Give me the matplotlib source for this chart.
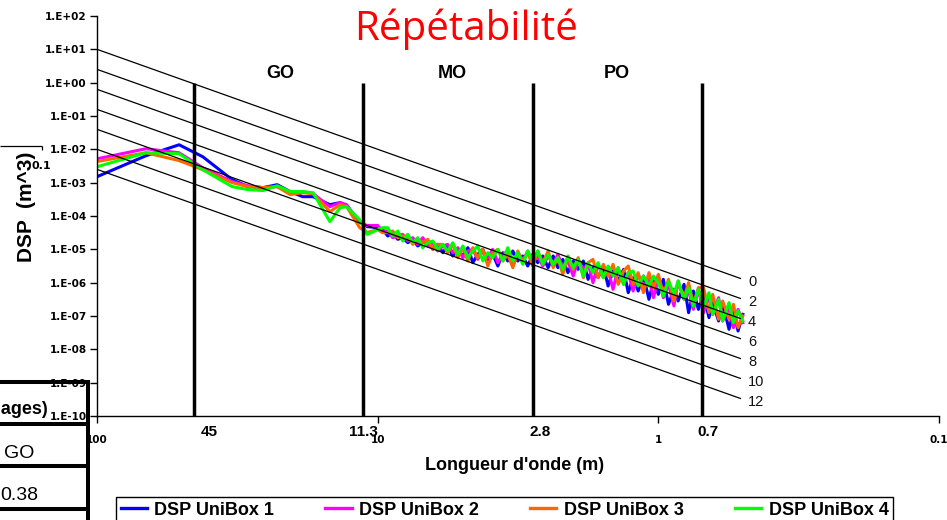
import matplotlib
matplotlib.use("Agg")
import matplotlib.pyplot as plt
from matplotlib.lines import Line2D
from matplotlib.ticker import FixedLocator, FixedFormatter, NullLocator

plt.rcParams['font.family'] = ['Liberation Sans', 'DejaVu Sans']

# ---------------- data ----------------
wavelength = [100, 67, 51, 42, 33, 29, 25.6, 22.8, 20.5, 18.5, 17, 14.8, 13.6, 12.9, 11.6, 10.9, 10.0,
              9.60, 9.21, 8.84, 8.48, 8.14, 7.81, 7.50, 7.20, 6.91, 6.63,
              6.36, 6.11, 5.86, 5.63, 5.40, 5.18, 4.97, 4.77, 4.58, 4.40,
              4.22, 4.05, 3.89, 3.73, 3.58, 3.44, 3.30, 3.17, 3.04, 2.92,
              2.80, 2.69, 2.58, 2.47, 2.37, 2.28, 2.19, 2.10, 2.01, 1.93,
              1.85, 1.78, 1.71, 1.64, 1.57, 1.51, 1.45, 1.39, 1.33, 1.28,
              1.23, 1.18, 1.13, 1.08, 1.04, 1.00, 0.96, 0.92, 0.88, 0.85,
              0.81, 0.78, 0.75, 0.72, 0.69, 0.66, 0.64, 0.61, 0.59, 0.56,
              0.54, 0.52, 0.50]

dsp_unibox1 = [1.51e-3, 6.4e-3, 1.37e-2, 6.0e-3, 1.23e-3, 7.6e-4, 7.1e-4, 8.7e-4, 5.4e-4, 3.8e-4,
               3.8e-4, 2.19e-4, 2.52e-4, 2.05e-4, 6.8e-5, 4.8e-5, 4.5e-5,
               3.98e-5, 2.51e-5, 3.16e-5, 2.00e-5, 2.24e-5, 1.58e-5, 2.00e-5, 1.26e-5, 1.58e-5, 1.78e-5,
               1.00e-5, 1.41e-5, 7.94e-6, 1.26e-5, 6.31e-6, 1.00e-5, 6.31e-6, 1.12e-5, 3.98e-6, 7.08e-6,
               1.00e-5, 3.98e-6, 7.08e-6, 3.16e-6, 7.94e-6, 4.47e-6, 8.91e-6, 4.47e-6, 6.31e-6, 3.16e-6,
               7.08e-6, 3.98e-6, 6.31e-6, 2.82e-6, 6.31e-6, 2.82e-6, 5.01e-6, 2.00e-6, 4.47e-6, 2.51e-6,
               4.47e-6, 1.26e-6, 2.82e-6, 1.41e-6, 3.16e-6, 7.94e-7, 2.24e-6, 1.12e-6, 2.51e-6, 5.01e-7,
               1.41e-6, 5.62e-7, 1.58e-6, 3.16e-7, 1.12e-6, 4.47e-7, 1.26e-6, 2.24e-7, 6.31e-7, 2.82e-7,
               8.91e-7, 1.26e-7, 5.62e-7, 1.58e-7, 4.47e-7, 8.91e-8, 2.51e-7, 7.08e-8, 2.51e-7, 3.98e-8,
               1.41e-7, 3.55e-8, 1.12e-7]

dsp_unibox2 = [5.2e-3, 1.04e-2, 7.9e-3, 2.8e-3, 1.07e-3, 8.1e-4, 7.1e-4, 7.6e-4, 5.0e-4, 5.4e-4,
               4.7e-4, 1.91e-4, 2.52e-4, 2.19e-4, 6.3e-5, 5.2e-5, 5.2e-5,
               3.55e-5, 3.55e-5, 2.24e-5, 2.51e-5, 2.82e-5, 1.78e-5, 2.24e-5, 1.41e-5, 2.24e-5, 1.26e-5,
               1.58e-5, 8.91e-6, 1.26e-5, 1.41e-5, 7.94e-6, 1.12e-5, 5.62e-6, 8.91e-6, 1.00e-5, 5.01e-6,
               8.91e-6, 5.62e-6, 1.00e-5, 3.98e-6, 7.08e-6, 8.91e-6, 3.16e-6, 7.08e-6, 4.47e-6, 8.91e-6,
               4.47e-6, 6.31e-6, 3.16e-6, 6.31e-6, 3.55e-6, 7.08e-6, 2.82e-6, 4.47e-6, 1.58e-6, 5.01e-6,
               2.24e-6, 3.98e-6, 1.00e-6, 3.55e-6, 1.41e-6, 2.51e-6, 6.31e-7, 2.82e-6, 8.91e-7, 2.00e-6,
               5.62e-7, 1.78e-6, 7.08e-7, 1.26e-6, 3.55e-7, 1.41e-6, 3.55e-7, 8.91e-7, 2.00e-7, 1.12e-6,
               3.16e-7, 5.62e-7, 1.58e-7, 6.31e-7, 1.26e-7, 3.98e-7, 1.12e-7, 3.55e-7, 7.08e-8, 1.78e-7,
               4.47e-8, 1.58e-7, 6.31e-8]

dsp_unibox3 = [4.3e-3, 7.9e-3, 4.6e-3, 2.45e-3, 1.0e-3, 7.6e-4, 7.1e-4, 7.6e-4, 4.4e-4, 5.0e-4,
               4.7e-4, 1.35e-4, 2.19e-4, 1.91e-4, 4.5e-5, 3.2e-5, 3.9e-5,
               3.16e-5, 3.16e-5, 3.55e-5, 2.24e-5, 2.51e-5, 2.51e-5, 1.41e-5, 2.00e-5, 1.58e-5, 2.00e-5,
               1.00e-5, 1.41e-5, 1.41e-5, 7.94e-6, 1.41e-5, 5.62e-6, 1.12e-5, 4.47e-6, 1.12e-5, 5.62e-6,
               1.00e-5, 3.16e-6, 7.94e-6, 1.00e-5, 4.47e-6, 7.08e-6, 2.82e-6, 8.91e-6, 4.47e-6, 7.94e-6,
               3.16e-6, 8.91e-6, 3.98e-6, 8.91e-6, 2.82e-6, 5.62e-6, 1.78e-6, 5.62e-6, 2.51e-6, 5.62e-6,
               1.41e-6, 3.98e-6, 5.01e-6, 1.41e-6, 3.55e-6, 1.58e-6, 3.55e-6, 8.91e-7, 2.24e-6, 3.16e-6,
               8.91e-7, 2.00e-6, 5.01e-7, 2.00e-6, 7.08e-7, 1.78e-6, 4.47e-7, 1.26e-6, 2.82e-7, 1.00e-6,
               3.55e-7, 1.00e-6, 2.24e-7, 7.08e-7, 7.08e-7, 1.26e-7, 4.47e-7, 7.94e-8, 2.82e-7, 7.94e-8,
               2.24e-7, 4.47e-8, 1.00e-7]

dsp_unibox4 = [3.0e-3, 7.9e-3, 7.4e-3, 2.45e-3, 7.6e-4, 6.2e-4, 5.8e-4, 8.1e-4, 5.4e-4, 5.4e-4,
               5.0e-4, 6.8e-5, 1.78e-4, 1.91e-4, 7.8e-5, 2.8e-5, 3.9e-5,
               4.47e-5, 4.47e-5, 2.51e-5, 3.55e-5, 1.78e-5, 2.82e-5, 1.58e-5, 2.24e-5, 1.12e-5, 1.58e-5,
               1.78e-5, 1.00e-5, 1.41e-5, 8.91e-6, 1.58e-5, 7.08e-6, 1.26e-5, 5.62e-6, 8.91e-6, 1.26e-5,
               4.47e-6, 7.94e-6, 5.62e-6, 1.00e-5, 4.47e-6, 1.12e-5, 4.47e-6, 7.94e-6, 3.55e-6, 8.91e-6,
               4.47e-6, 8.91e-6, 3.55e-6, 7.08e-6, 3.55e-6, 5.62e-6, 2.51e-6, 6.31e-6, 2.82e-6, 5.01e-6,
               1.58e-6, 3.98e-6, 2.00e-6, 3.98e-6, 1.41e-6, 3.16e-6, 1.58e-6, 2.82e-6, 8.91e-7, 2.00e-6,
               2.24e-6, 7.94e-7, 1.58e-6, 7.94e-7, 1.58e-6, 1.00e-6, 3.98e-7, 1.12e-6, 4.47e-7, 1.12e-6,
               3.16e-7, 7.08e-7, 2.00e-7, 6.31e-7, 2.00e-7, 5.01e-7, 1.12e-7, 3.16e-7, 7.08e-8, 2.51e-7,
               6.31e-8, 1.41e-7, 7.08e-8]

series_names = ['DSP UniBox 1', 'DSP UniBox 2', 'DSP UniBox 3', 'DSP UniBox 4']

# class reference lines (0 ... 12)
class_labels = ['0', '2', '4', '6', '8', '10', '12']
class_lambda = [100, 0.51]
class_dsp_start = [10.0, 2.51, 0.631, 0.158, 0.0398, 0.0100, 0.00251]
class_dsp_end = [1.34e-6, 3.36e-7, 8.4e-8, 2.1e-8, 5.3e-9, 1.34e-9, 3.36e-10]

# wavelength band limits
band_limits = [45, 11.3, 2.8, 0.7]
band_limit_labels = ['45', '11.3', '2.8', '0.7']
band_names = ['GO', 'MO', 'PO']
band_top = 1.0

x_ticks = [100, 10, 1, 0.1]
x_tick_labels = ['100', '10', '1', '0.1']
y_ticks = [1e2, 1e1, 1e0, 1e-1, 1e-2, 1e-3, 1e-4, 1e-5, 1e-6, 1e-7, 1e-8, 1e-9, 1e-10]
y_tick_labels = ['1.E+02', '1.E+01', '1.E+00', '1.E-01', '1.E-02', '1.E-03', '1.E-04',
                 '1.E-05', '1.E-06', '1.E-07', '1.E-08', '1.E-09', '1.E-10']

# ---------------- figure ----------------
W, H = 947, 520
fig = plt.figure(figsize=(W / 100, H / 100), dpi=100)
fig.patch.set_facecolor('white')

def fx(px):
    return px / W

def fy(py):
    return 1 - py / H

ax = fig.add_axes([fx(97), fy(416), 842 / W, 400 / H])
ax.set_xscale('log')
ax.set_yscale('log')

colors = ['#0000FF', '#FF00FF', '#FF6600', '#00FF00']
handles = []
for vals, c, name in zip([dsp_unibox1, dsp_unibox2, dsp_unibox3, dsp_unibox4], colors, series_names):
    ax.plot(wavelength, vals, color=c, lw=2.2, zorder=2, solid_joinstyle='round')
    handles.append(Line2D([], [], color=c, lw=2.4, label=name))

for s, e, lab in zip(class_dsp_start, class_dsp_end, class_labels):
    ax.plot(class_lambda, [s, e], color='black', lw=0.9, zorder=3)
    ax.annotate(lab, xy=(class_lambda[1], e), xytext=(5.5, -2.5), textcoords='offset points',
                ha='left', va='center', fontsize=10.5, color='#111111', annotation_clip=False)

ax.vlines(band_limits, 1e-10, band_top, colors='black', lw=2.5, zorder=4)

ax.set_xlim(100, 0.1)
ax.set_ylim(1e-10, 1e2)
ax.xaxis.set_major_locator(FixedLocator(x_ticks))
ax.xaxis.set_major_formatter(FixedFormatter(x_tick_labels))
ax.xaxis.set_minor_locator(NullLocator())
ax.yaxis.set_major_locator(FixedLocator(y_ticks))
ax.yaxis.set_major_formatter(FixedFormatter(y_tick_labels))
ax.yaxis.set_minor_locator(NullLocator())
for s in ['top', 'right']:
    ax.spines[s].set_visible(False)
for s in ['left', 'bottom']:
    ax.spines[s].set_linewidth(1.0)
ax.tick_params(axis='y', length=5, width=1, pad=2.5, labelsize=7.5)
ax.tick_params(axis='x', length=5, width=1, pad=9, labelsize=7.5)
for t in ax.get_yticklabels() + ax.get_xticklabels():
    t.set_fontweight('bold')
    t.set_family('DejaVu Sans')

# band names and limit labels
for name, xp in zip(band_names, [280, 452, 617]):
    ax.text((xp - 97) / 842, (416 - 74) / 400, name, transform=ax.transAxes,
            ha='center', va='center', fontsize=13, fontweight='bold')
for lab, xp in zip(band_limit_labels, [209, 363, 540, 708]):
    ax.text((xp - 97) / 842, (416 - 432) / 400, lab, transform=ax.transAxes,
            ha='center', va='center', fontsize=11, fontweight='bold', clip_on=False)

# titles / labels
fig.text(fx(466), fy(40), 'Répétabilité', ha='center', va='baseline', color='#FF0000',
         fontsize=29, family='Open Sans')
fig.text(fx(515), fy(465), "Longueur d'onde (m)", ha='center', va='center',
         fontsize=13, fontweight='bold')
fig.text(fx(41), fy(166), '0.1', ha='center', va='center', fontsize=8, fontweight='bold',
         family='DejaVu Sans')
fig.text(fx(26), fy(207), 'DSP  (m^3)', rotation=90, ha='center', va='center',
         fontsize=15, fontweight='bold', zorder=20)

# legend
leg = fig.legend(handles=handles, loc='upper left', bbox_to_anchor=(fx(116), 0, 777 / W, fy(497)),
                 mode='expand', ncol=4, frameon=True, fancybox=False, edgecolor='black',
                 framealpha=1, prop={'weight': 'bold', 'size': 13}, handlelength=1.45,
                 handletextpad=0.4, borderaxespad=0, borderpad=0.25)
leg.get_frame().set_linewidth(1.0)

# overlapping fragments from neighbouring objects
def fline(xs, ys, lw, z=15):
    fig.add_artist(Line2D([fx(v) for v in xs], [fy(v) for v in ys], transform=fig.transFigure,
                          color='black', lw=lw, zorder=z, solid_capstyle='butt'))

fline([0, 42], [146, 146], 0.9)
fline([42, 42], [146, 150], 0.9)
fline([0, 90], [382, 382], 2.9)
fline([88, 88], [380, 520], 2.9)
fline([0, 90], [424, 424], 2.9)
fline([0, 90], [466, 466], 2.9)
fline([0, 90], [509, 509], 2.9)
fig.text(fx(48), fy(414), '(plages)', ha='right', va='baseline', fontsize=13, fontweight='bold')
fig.text(fx(34), fy(458), 'GO', ha='right', va='baseline', fontsize=14)
fig.text(fx(38), fy(500), '0.38', ha='right', va='baseline', fontsize=14)

fig.savefig('out.png', dpi=100)
